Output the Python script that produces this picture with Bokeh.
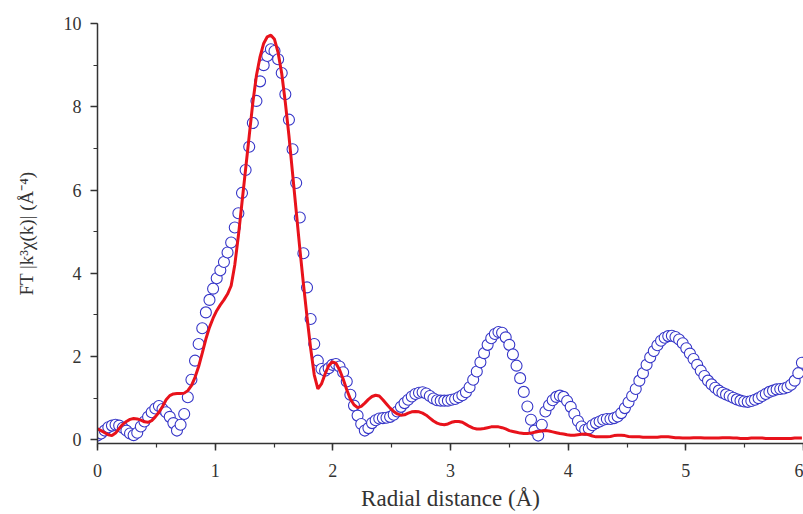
from bokeh.plotting import figure
from bokeh.models import Range1d, SingleIntervalTicker
from bokeh.embed import file_html
from bokeh.resources import INLINE

# sampling grid of the Fourier transform (Å)
r_step = 0.0307
n_pts = 196
r = [round(i * r_step, 4) for i in range(n_pts)]

# experimental |FT| (open circles)
ft_data = [
    0.10, 0.15, 0.22, 0.30, 0.34, 0.36, 0.34, 0.29, 0.22, 0.15,
    0.11, 0.17, 0.32, 0.44, 0.55, 0.66, 0.75, 0.81, 0.74, 0.66,
    0.55, 0.40, 0.22, 0.36, 0.62, 1.02, 1.44, 1.90, 2.30, 2.68,
    3.06, 3.36, 3.63, 3.88, 4.07, 4.27, 4.50, 4.74, 5.10, 5.44,
    5.93, 6.48, 7.04, 7.61, 8.14, 8.61, 9.00, 9.22, 9.38, 9.34,
    9.14, 8.81, 8.30, 7.69, 6.98, 6.17, 5.34, 4.48, 3.66, 2.90,
    2.30, 1.90, 1.70, 1.66, 1.72, 1.80, 1.82, 1.76, 1.62, 1.40,
    1.08, 0.82, 0.58, 0.38, 0.22, 0.28, 0.40, 0.47, 0.51, 0.52,
    0.53, 0.55, 0.60, 0.68, 0.79, 0.88, 0.96, 1.04, 1.10, 1.13,
    1.14, 1.11, 1.05, 0.99, 0.95, 0.94, 0.94, 0.94, 0.96, 0.98,
    1.02, 1.07, 1.14, 1.26, 1.44, 1.64, 1.86, 2.08, 2.28, 2.44,
    2.54, 2.59, 2.57, 2.46, 2.28, 2.05, 1.78, 1.48, 1.15, 0.80,
    0.48, 0.22, 0.10, 0.36, 0.68, 0.83, 0.95, 1.03, 1.06, 1.03,
    0.93, 0.79, 0.62, 0.45, 0.32, 0.24, 0.27, 0.35, 0.40, 0.44,
    0.48, 0.50, 0.50, 0.52, 0.56, 0.64, 0.76, 0.90, 1.05, 1.22,
    1.42, 1.60, 1.80, 1.98, 2.13, 2.27, 2.38, 2.45, 2.49, 2.50,
    2.47, 2.41, 2.32, 2.20, 2.07, 1.94, 1.80, 1.66, 1.53, 1.42,
    1.33, 1.25, 1.18, 1.13, 1.09, 1.05, 1.01, 0.97, 0.94, 0.92,
    0.91, 0.93, 0.96, 1.00, 1.05, 1.10, 1.15, 1.18, 1.21, 1.22,
    1.23, 1.26, 1.32, 1.42, 1.60, 1.85,
]

# fitted |FT| (red line)
ft_fit = [
    0.26, 0.22, 0.17, 0.12, 0.10, 0.16, 0.27, 0.37, 0.44, 0.49,
    0.51, 0.50, 0.47, 0.43, 0.42, 0.46, 0.55, 0.66, 0.80, 0.96,
    1.06, 1.10, 1.11, 1.11, 1.12, 1.18, 1.30, 1.50, 1.76, 2.08,
    2.42, 2.70, 2.92, 3.10, 3.24, 3.36, 3.50, 3.70, 4.20, 4.90,
    5.70, 6.50, 7.30, 8.10, 8.75, 9.20, 9.52, 9.68, 9.72, 9.62,
    9.30, 8.80, 8.10, 7.30, 6.40, 5.50, 4.60, 3.75, 2.95, 2.20,
    1.56, 1.22, 1.34, 1.58, 1.78, 1.87, 1.84, 1.68, 1.46, 1.20,
    0.98, 0.84, 0.77, 0.80, 0.88, 0.97, 1.04, 1.07, 1.05, 0.96,
    0.86, 0.76, 0.68, 0.62, 0.59, 0.60, 0.64, 0.67, 0.68, 0.67,
    0.64, 0.59, 0.52, 0.45, 0.40, 0.37, 0.36, 0.38, 0.42, 0.44,
    0.44, 0.42, 0.37, 0.32, 0.28, 0.26, 0.26, 0.27, 0.29, 0.31,
    0.31, 0.31, 0.29, 0.26, 0.22, 0.20, 0.18, 0.16, 0.15, 0.15,
    0.16, 0.18, 0.20, 0.21, 0.22, 0.21, 0.19, 0.17, 0.15, 0.14,
    0.12, 0.11, 0.11, 0.12, 0.13, 0.14, 0.12, 0.09, 0.07, 0.07,
    0.07, 0.07, 0.08, 0.10, 0.11, 0.11, 0.10, 0.08, 0.07, 0.07,
    0.07, 0.06, 0.06, 0.06, 0.06, 0.06, 0.07, 0.07, 0.07, 0.06,
    0.05, 0.05, 0.04, 0.04, 0.04, 0.05, 0.05, 0.05, 0.04, 0.04,
    0.04, 0.04, 0.04, 0.05, 0.05, 0.05, 0.04, 0.04, 0.03, 0.03,
    0.03, 0.04, 0.04, 0.04, 0.04, 0.03, 0.03, 0.03, 0.03, 0.03,
    0.03, 0.03, 0.03, 0.04, 0.04, 0.04,
]

x_label = "Radial distance (Å)"
y_label = "FT |k³χ(k)| (Å⁻⁴)"

p = figure(
    width=803, height=514,
    x_range=Range1d(0, 6), y_range=Range1d(-0.09, 10),
    output_backend="svg", toolbar_location=None,
    min_border_left=97, min_border_right=0,
    min_border_top=23, min_border_bottom=71,
)
p.xgrid.visible = False
p.ygrid.visible = False
p.outline_line_color = None
p.background_fill_color = "white"
p.border_fill_color = "white"

p.xaxis.ticker = SingleIntervalTicker(interval=1, num_minor_ticks=2)
p.yaxis.ticker = SingleIntervalTicker(interval=2, num_minor_ticks=2)

for ax in (p.xaxis[0], p.yaxis[0]):
    ax.axis_line_color = "#333333"
    ax.axis_line_width = 1.5
    ax.major_tick_line_color = "#333333"
    ax.minor_tick_line_color = "#333333"
    ax.major_tick_line_width = 1.5
    ax.minor_tick_line_width = 1.2
    ax.major_tick_in = 0
    ax.major_tick_out = 7
    ax.minor_tick_in = 0
    ax.minor_tick_out = 4
    ax.major_label_text_font = "Liberation Serif"
    ax.major_label_text_font_size = "18px"
    ax.major_label_text_color = "#333333"
    ax.axis_label_text_font = "Liberation Serif"
    ax.axis_label_text_font_style = "normal"
    ax.axis_label_text_color = "#333333"

p.xaxis.axis_label = x_label
p.yaxis.axis_label = y_label
p.xaxis.axis_label_text_font_size = "23px"
p.yaxis.axis_label_text_font_size = "19px"
p.xaxis.major_label_standoff = 13
p.xaxis.axis_label_standoff = 6
p.yaxis.major_label_standoff = 9
p.yaxis.axis_label_standoff = 24

p.scatter(r, ft_data, marker="circle", size=11, line_color="#3636c8",
          fill_color="white", line_width=1.1)
p.line(r, ft_fit, line_color="#e8121b", line_width=3)

open("out.html", "w").write(file_html(p, INLINE))
